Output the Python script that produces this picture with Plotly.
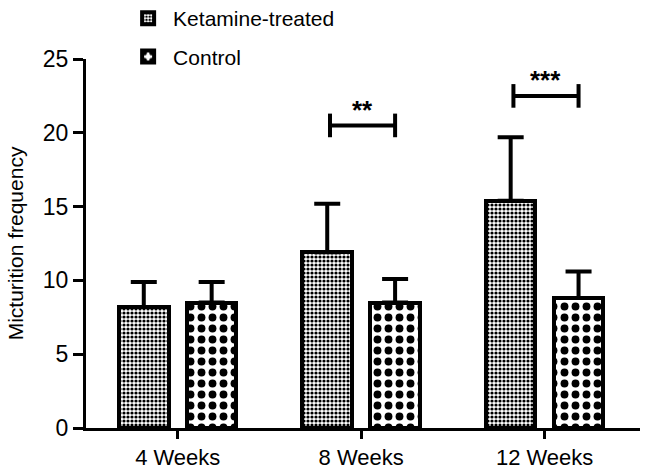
import plotly.graph_objects as go

categories = ["4 Weeks", "8 Weeks", "12 Weeks"]
ketamine = [8.2, 11.9, 15.4]
ketamine_err = [1.7, 3.3, 4.3]
control = [8.5, 8.5, 8.8]
control_err = [1.4, 1.6, 1.8]
sig_labels = ["", "**", "***"]
sig_heights = [None, 20.5, 22.5]

xpos = list(range(len(categories)))
off = 0.185

fig = go.Figure()
fig.add_trace(go.Bar(
    name="Ketamine-treated", x=[p - off for p in xpos], y=ketamine, width=0.27,
    legendgroup="k",
    marker=dict(color="white", line=dict(color="black", width=4),
                pattern=dict(shape=".", size=4, solidity=0.5, fgcolor="black",
                             bgcolor="white", fgopacity=1)),
    error_y=dict(type="data", array=ketamine_err, arrayminus=[0]*3, symmetric=False,
                 color="black", thickness=4, width=13),
))
fig.add_trace(go.Bar(
    name="Control", x=[p + off for p in xpos], y=control, width=0.27,
    legendgroup="c",
    marker=dict(color="white", line=dict(color="black", width=4),
                pattern=dict(shape=".", size=11, solidity=0.4, fgcolor="black",
                             bgcolor="white", fgopacity=1)),
    error_y=dict(type="data", array=control_err, arrayminus=[0]*3, symmetric=False,
                 color="black", thickness=4, width=13),
))

for p, lab, h in zip(xpos, sig_labels, sig_heights):
    if not lab:
        continue
    x0, x1 = p - off + 0.015, p + off
    fig.add_shape(type="line", x0=x0, x1=x1, y0=h, y1=h, xref="x", yref="y",
                  line=dict(color="black", width=4))
    for xx in (x0, x1):
        fig.add_shape(type="line", x0=xx, x1=xx, y0=h - 0.8, y1=h + 0.8, xref="x", yref="y",
                      line=dict(color="black", width=4))
    fig.add_annotation(x=(x0 + x1) / 2, y=h - 0.1, text="<b>" + lab + "</b>", showarrow=False,
                       yanchor="bottom", font=dict(size=26, color="black"))

fig.update_layout(
    width=646, height=470,
    margin=dict(l=86, r=6, t=59, b=42, autoexpand=False),
    paper_bgcolor="white", plot_bgcolor="white",
    font=dict(family="Liberation Sans, Arial, sans-serif", size=21, color="black"),
    showlegend=True,
    legend=dict(x=0.067, y=1.165, xanchor="left", yanchor="top", bgcolor="rgba(0,0,0,0)",
                font=dict(size=21), tracegroupgap=8, itemwidth=40),
    bargap=0,
)
fig.update_xaxes(range=[-0.5, 2.52], tickvals=xpos, ticktext=categories,
                 showline=True, linecolor="black", linewidth=3, ticks="outside",
                 ticklen=8, tickwidth=3, tickcolor="black", showgrid=False, zeroline=False,
                 tickfont=dict(size=22))
fig.update_yaxes(range=[0, 25], tickvals=[0, 5, 10, 15, 20, 25],
                 showline=True, linecolor="black", linewidth=3, ticks="outside",
                 ticklen=10, tickwidth=3, tickcolor="black", showgrid=False, zeroline=False,
                 title=dict(text="Micturition frequency", font=dict(size=21), standoff=14),
                 tickfont=dict(size=23))

fig.write_html("out.html", config={"displayModeBar": False},
               post_script="document.body.style.margin='0';document.body.style.overflow='hidden';")
